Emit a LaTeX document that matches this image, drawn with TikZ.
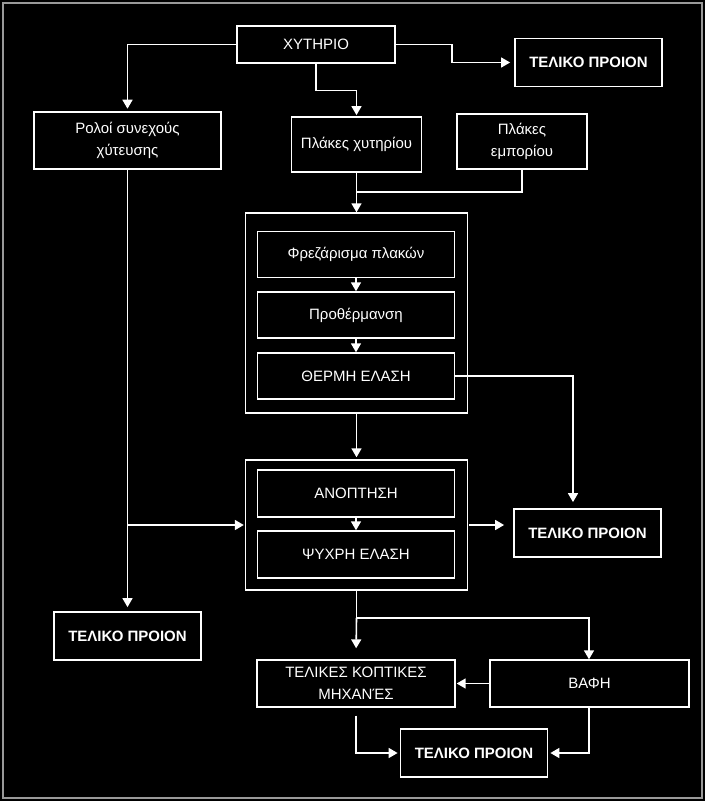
\documentclass[tikz,border=0pt]{standalone}
\usepackage{fontspec}
\setmainfont{Liberation Sans}
\usetikzlibrary{arrows.meta}

\begin{document}
\begin{tikzpicture}[x=1pt,y=-1pt,
        box/.style={draw=white,line width=1.4pt,text=white,align=center,inner sep=0pt,font=\fontsize{15}{22}\selectfont},
        thickbox/.style={box,line width=2.6pt},
        endbox/.style={box,line width=1.8pt,minimum width=147pt,minimum height=48pt,font=\fontsize{15}{22}\selectfont\bfseries},
        stepbox/.style={box,minimum width=197pt,minimum height=46pt},
        arr/.style={draw=white,line width=1.6pt,-{Triangle[width=10pt,length=9pt]}}]
        \fill[black](0,0) rectangle (705,801);
        \draw[gray!80,line width=1.5pt](3,3) rectangle (702,798);
        \node[thickbox,minimum width=158pt,minimum height=37pt](xyt) at (316,44.5) {ΧΥΤΗΡΙΟ};
        \node[endbox](tela) at (588.5,62.5) {ΤΕΛΙΚΟ ΠΡΟΙΟΝ};
        \node[thickbox,minimum width=187pt,minimum height=57pt](rol) at (127.5,140.5) {Ρολοί συνεχούς\\χύτευσης};
        \node[box,line width=1.8pt,minimum width=130pt,minimum height=55pt](plx) at (356.5,144.5) {Πλάκες χυτηρίου};
        \node[box,line width=1.8pt,minimum width=130pt,minimum height=55pt](ple) at (522,141.5) {Πλάκες\\εμπορίου};
        \node[box,minimum width=222pt,minimum height=200pt](g1) at (356.5,313) {};
        \node[stepbox](fre) at (356,254.5) {Φρεζάρισμα πλακών};
        \node[stepbox](pro) at (356,315) {Προθέρμανση};
        \node[stepbox](the) at (356,376) {ΘΕΡΜΗ ΕΛΑΣΗ};
        \node[box,minimum width=222pt,minimum height=130pt](g2) at (356.5,525) {};
        \node[stepbox,minimum height=47pt](ano) at (356,493.5) {ΑΝΟΠΤΗΣΗ};
        \node[stepbox,minimum height=47pt](psy) at (356,554.5) {ΨΥΧΡΗ ΕΛΑΣΗ};
        \node[endbox](telb) at (587.5,533) {ΤΕΛΙΚΟ ΠΡΟΙΟΝ};
        \node[endbox](telc) at (127.5,636) {ΤΕΛΙΚΟ ΠΡΟΙΟΝ};
        \node[stepbox,minimum width=198pt,minimum height=47pt](tkm) at (356,683.5) {ΤΕΛΙΚΕΣ ΚΟΠΤΙΚΕΣ\\ΜΗΧΑΝΈΣ};
        \node[stepbox,minimum width=199pt,minimum height=47pt](vaf) at (589.5,683.5) {ΒΑΦΗ};
        \node[endbox](teld) at (474,753) {ΤΕΛΙΚΟ ΠΡΟΙΟΝ};
        \coordinate(k1) at (452,0);
        \coordinate(j1) at (356.5,192);
        \coordinate(j2) at (127.5,525);
        \coordinate(j3) at (356.5,618);
        \draw[arr,shorten >=2pt](xyt.west)-|(rol.north);
        \draw[arr,shorten >=4pt](xyt.east)-|(k1|-tela.west)--(tela.west);
        \draw[arr,shorten >=1pt](xyt.south)--++(0,26)-|(plx.north);
        \draw[draw=white,line width=1.6pt](ple.south)|-(j1);
        \draw[arr](plx.south)--(j1)--(g1.north);
        \draw[arr](fre.south)--(pro.north);
        \draw[arr](pro.south)--(the.north);
        \draw[arr,shorten >=6pt](the.east)-|([xshift=-14.5pt]telb.north);
        \draw[arr,shorten >=2pt](g1.south)--(g2.north);
        \draw[arr](ano.south)--(psy.north);
        \draw[arr,shorten >=4pt](rol.south)--(telc.north);
        \draw[arr,shorten >=1pt](j2)--(g2.west);
        \draw[arr,shorten <=1pt,shorten >=9pt](g2.east)--(g2.east-|telb.west);
        \draw[draw=white,line width=1.6pt](g2.south)--(j3);
        \draw[arr,shorten >=11pt](j3)--(tkm.north);
        \draw[arr](j3)-|([xshift=-0.5pt]vaf.north);
        \draw[arr,shorten >=1pt](vaf.west)--(tkm.east);
        \draw[arr,shorten <=8pt,shorten >=2pt](tkm.south)|-(teld.west);
        \draw[arr,shorten >=2pt]([xshift=-0.5pt]vaf.south)|-(teld.east);
\end{tikzpicture}
\end{document}
